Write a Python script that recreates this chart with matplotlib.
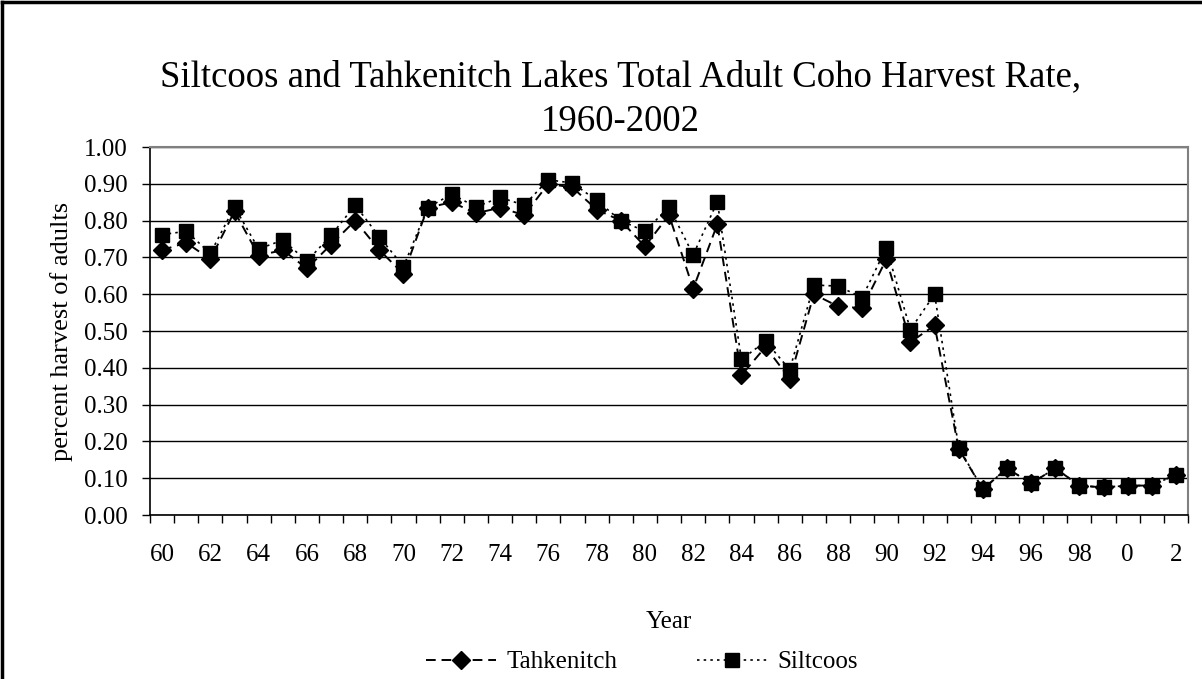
import matplotlib
matplotlib.use("Agg")
import matplotlib.pyplot as plt
from matplotlib.lines import Line2D
import numpy as np

plt.rcParams['font.family'] = ['Liberation Serif', 'DejaVu Serif']

years = list(range(1960, 2003))
tahkenitch = [0.72, 0.74, 0.695, 0.825, 0.705, 0.72, 0.67, 0.735, 0.80, 0.72,
              0.655, 0.835, 0.85, 0.82, 0.835, 0.815, 0.90, 0.89, 0.83, 0.80,
              0.73, 0.815, 0.615, 0.79, 0.38, 0.457, 0.37, 0.60, 0.567, 0.562,
              0.695, 0.47, 0.515, 0.18, 0.07, 0.127, 0.086, 0.127, 0.08, 0.075,
              0.08, 0.08, 0.11]
siltcoos = [0.762, 0.771, 0.711, 0.837, 0.723, 0.747, 0.69, 0.76, 0.842, 0.756,
            0.675, 0.835, 0.872, 0.837, 0.863, 0.842, 0.911, 0.902, 0.855, 0.80,
            0.771, 0.837, 0.707, 0.851, 0.423, 0.472, 0.395, 0.625, 0.622, 0.591,
            0.726, 0.504, 0.60, 0.183, 0.07, 0.127, 0.086, 0.127, 0.08, 0.075,
            0.08, 0.08, 0.11]
year_labels = [str(y % 100) for y in years]

fig = plt.figure(figsize=(12.02, 6.79), dpi=100)
ax = fig.add_axes([0.1248, 0.2415, 0.8636, 0.542])

x = np.arange(len(years))
ax.plot(x, tahkenitch, color='black', lw=1.4, dashes=(5, 3),
        marker='D', ms=9, mfc='black', mec='black', label='Tahkenitch', zorder=3)
ax.plot(x, siltcoos, color='black', lw=1.2, dashes=(1.5, 2.5),
        marker='s', ms=10, mfc='black', mec='black', label='Siltcoos', zorder=4)

ax.set_xlim(-0.5, len(years) - 0.5)
ax.set_ylim(0, 1.0)

# y axis: gridlines every 0.10
ax.set_yticks(np.arange(0, 1.01, 0.1))
ax.set_yticklabels([f"{v:.2f}" for v in np.arange(0, 1.01, 0.1)])
ax.yaxis.grid(True, color='black', lw=1.0)
ax.set_axisbelow(True)
ax.tick_params(axis='y', direction='out', length=6, width=1, labelsize=18, pad=10)

# x axis: ticks between categories, labels on every other year
ax.set_xticks(np.arange(-0.5, len(years), 1.0))
ax.set_xticklabels([])
ax.tick_params(axis='x', which='major', direction='out', length=6, width=1)
ax.set_xticks(x[::2], minor=True)
ax.set_xticklabels(year_labels[::2], minor=True)
ax.tick_params(axis='x', which='minor', length=0, labelsize=18, pad=21)

for side in ['top', 'right']:
    ax.spines[side].set_color('#808080')
    ax.spines[side].set_linewidth(1.5)
for side in ['left', 'bottom']:
    ax.spines[side].set_color('black')
    ax.spines[side].set_linewidth(1.2)

ax.set_ylabel('percent harvest of adults', fontsize=19, labelpad=8)

fig.text(0.516, 1 - 77 / 679, 'Siltcoos and Tahkenitch Lakes Total Adult Coho Harvest Rate,',
         ha='center', va='center', fontsize=26.5)
fig.text(0.516, 1 - 122 / 679, '1960-2002', ha='center', va='center', fontsize=26.5)
fig.text(0.5566, 1 - 622 / 679, 'Year', ha='center', va='center', fontsize=18)

handles = [
    Line2D([], [], color='black', lw=1.4, dashes=(5, 3), marker='D', ms=9),
    Line2D([], [], color='black', lw=1.2, dashes=(1.5, 2.5), marker='s', ms=10),
]
fig.legend(handles, ['Tahkenitch', 'Siltcoos'], loc='center',
           bbox_to_anchor=(642 / 1202, 1 - 662 / 679), ncol=2, frameon=False,
           fontsize=18, handlelength=2.8, handletextpad=0.4, columnspacing=3.2)

# outer chart border (left and top edges)
fig.add_artist(Line2D([0.002, 0.002], [0.0, 0.997], transform=fig.transFigure,
                      color='black', lw=2.5))
fig.add_artist(Line2D([0.002, 1.0], [0.997, 0.997], transform=fig.transFigure,
                      color='black', lw=2.5))

fig.savefig('out.png', dpi=100)
